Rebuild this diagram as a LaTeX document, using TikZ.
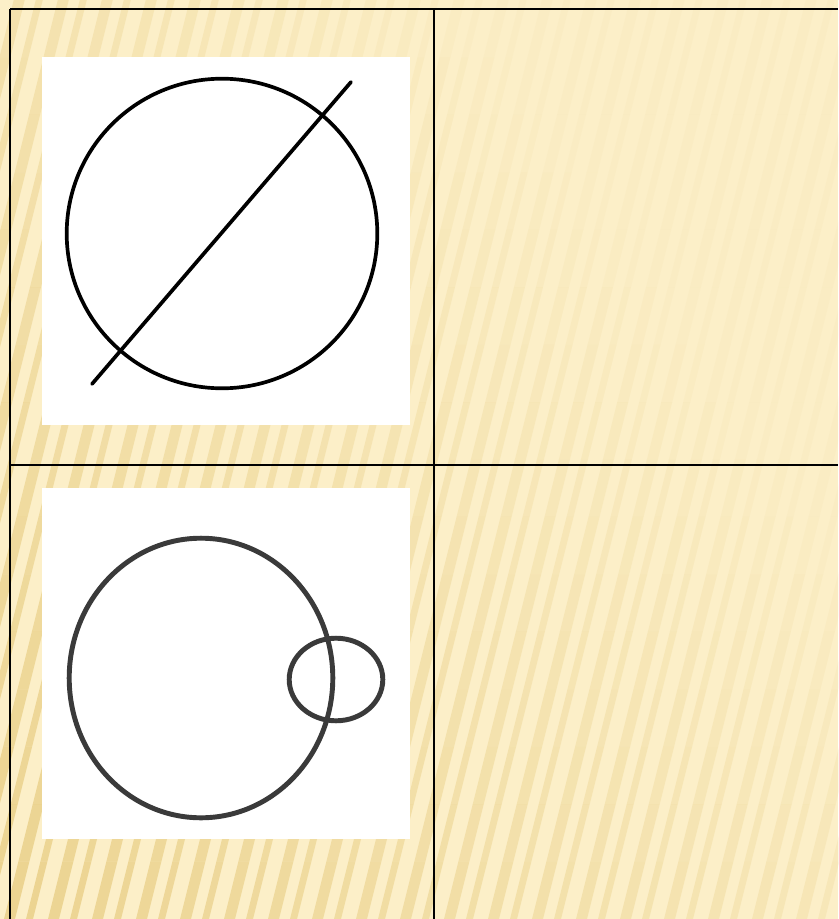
\documentclass[tikz,border=0pt]{standalone}
\usepackage{tikz}
\usetikzlibrary{positioning,calc}
\definecolor{fundo}{HTML}{FCEFC8}
\definecolor{listra}{HTML}{DDBB5E}
\definecolor{traco}{HTML}{3A3A3A}

\begin{document}
\begin{tikzpicture}[x=0.02cm,y=-0.02cm,
        grade/.style={line width=1.4pt,black},
        quadro/.style={fill=white,draw=none},
        figura/.style={line width=2.1pt,black,line cap=round},
        figura2/.style={line width=2.8pt,traco}]
        \useasboundingbox (0,0) rectangle (838,919);

        % Fundo listrado
        \fill[fundo] (0,0) rectangle (838,919);
        \foreach \xa [count=\i] in {-260,-238,...,860} {
          \foreach \k in {0,...,15} {
            \pgfmathsetmacro{\ya}{\k*57.44}
            \pgfmathsetmacro{\yb}{\ya+57.44}
            \pgfmathsetmacro{\sa}{0.25*(919-\ya)}
            \pgfmathsetmacro{\sb}{0.25*(919-\yb)}
            \pgfmathsetmacro{\w}{isodd(\i) ? 11 : 7}
            \pgfmathsetmacro{\op}{max(0.04,0.58-0.00045*(\xa+\sa+100)-0.0003*(919-\ya))}
            \fill[listra,opacity=\op] (\xa+\sb,\yb) -- (\xa+\w+\sb,\yb)
              -- (\xa+\w+\sa,\ya) -- (\xa+\sa,\ya) -- cycle;
          }
        }

        % Tabela
        \draw[grade] (10,9) -- (838,9);
        \draw[grade] (10,9) -- (10,919);
        \draw[grade] (434,9) -- (434,919);
        \draw[grade] (10,465) -- (838,465);

        % Quadros brancos
        \fill[quadro] (42,57) rectangle (410,425);
        \fill[quadro] (42,488) rectangle (410,839);

        % Circulo com reta
        \coordinate (c1) at (222,233.5);
        \draw[figura] (c1) ellipse [x radius=155.3, y radius=154.8];
        \coordinate (r1) at (92,384);
        \coordinate (r2) at (351,82);
        \draw[figura] (r1) -- (r2);

        % Dois circulos
        \coordinate (c2) at (201,678);
        \draw[figura2] (c2) ellipse [x radius=131.8, y radius=139.8];
        \coordinate (c3) at (336,679.5);
        \draw[figura2] (c3) ellipse [x radius=46.8, y radius=41.3];
\end{tikzpicture}
\end{document}
